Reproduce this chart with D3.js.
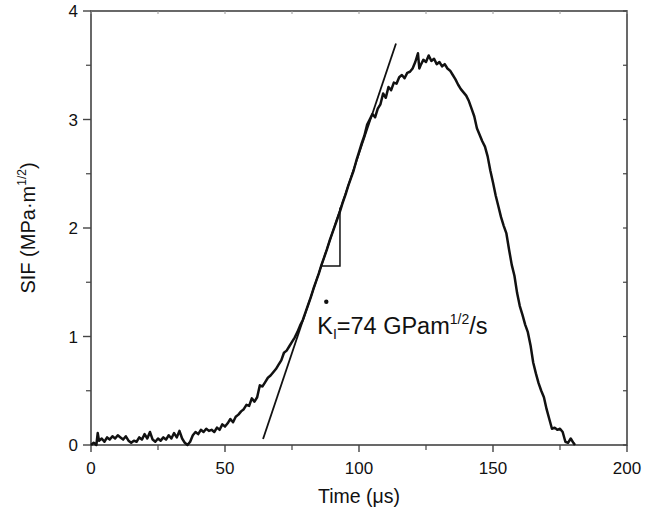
<!DOCTYPE html>
<html>
<head>
<meta charset="utf-8">
<script src="https://cdn.jsdelivr.net/npm/d3@7"></script>
<style>
body { margin: 0; background: #fff; }
svg { font-family: "Liberation Sans", Arial, sans-serif; }
</style>
</head>
<body>
<svg id="chart" width="664" height="518"></svg>
<script>
// SIF record (time in us, SIF in MPa m^1/2)
var timeUs = [0,1,2,2.5,3,4,5,6,7,8,9,10,11,12,13,14,15,16,17,18,19,20,21,22,23,24,25,26,27,28,29,30,
  31,32,33,34,35,36,37,38,39,40,41,42,43,44,45,46,47,48,49,50,51,52,53,54,55,56,57,58,59,60,
  61,62,63,64,65,66,67,68,69,70,71,72,73,74,75,76,77,78,79,80,81,82,83,84,85,86,87,88,89,90,
  91,92,93,94,95,96,97,98,99,100,101,102,103,104,105,106,107,108,109,110,111,112,113,114,115,116,117,118,119,120,
  121,122,122.5,123,124,125,126,127,128,129,130,131,132,133,134,135,136,137,138,139,140,
  141,142,143,144,145,146,147,148,149,150,151,152,153,154,155,156,157,158,159,160,
  161,162,163,164,165,166,167,168,169,170,171,172,173,174,175,176,177,178,179,180,180.6];
var sif = [0.00,0.02,0.00,0.11,0.04,0.06,0.03,0.07,0.05,0.08,0.06,0.09,0.07,0.05,0.08,0.04,0.02,0.04,0.03,0.07,0.05,0.10,0.06,0.12,0.05,0.03,0.06,0.04,0.07,0.05,0.09,0.06,
  0.11,0.07,0.13,0.06,0.02,0.00,0.03,0.09,0.12,0.10,0.14,0.12,0.15,0.13,0.14,0.12,0.16,0.14,0.19,0.17,0.20,0.24,0.21,0.26,0.28,0.31,0.33,0.37,0.36,0.43,
  0.40,0.44,0.55,0.54,0.58,0.62,0.64,0.67,0.70,0.74,0.78,0.85,0.87,0.91,0.95,0.99,1.04,1.10,1.15,1.22,1.29,1.36,1.44,1.51,1.58,1.66,1.73,1.80,1.88,1.95,
  2.02,2.09,2.16,2.24,2.31,2.39,2.46,2.53,2.62,2.70,2.78,2.85,2.95,3.00,3.05,3.02,3.10,3.14,3.24,3.20,3.30,3.27,3.34,3.33,3.39,3.41,3.38,3.43,3.44,3.47,
  3.53,3.61,3.47,3.50,3.55,3.53,3.59,3.54,3.56,3.51,3.53,3.49,3.51,3.47,3.45,3.41,3.37,3.32,3.28,3.25,3.22,
  3.17,3.10,3.03,2.92,2.86,2.80,2.75,2.66,2.53,2.42,2.30,2.20,2.10,2.02,1.95,1.80,1.66,1.56,1.40,1.28,
  1.20,1.11,1.04,0.92,0.76,0.66,0.57,0.50,0.44,0.33,0.24,0.15,0.16,0.14,0.15,0.12,0.03,0.02,0.06,0.02,0.00];

// fitted loading-rate line and slope triangle
var fitLine = [[64.2, 0.055], [113.8, 3.70]];
var triangle = [[86.2, 1.65], [92.9, 1.65], [92.9, 2.19]];

var xTicks = [0, 50, 100, 150, 200];
var xMinor = [25, 75, 125, 175];
var yTicks = [0, 1, 2, 3, 4];
var yMinor = [0.5, 1.5, 2.5, 3.5];

var svg = d3.select("#chart"),
    margin = {top: 11, right: 37, bottom: 73, left: 91},
    width = 664 - margin.left - margin.right,
    height = 518 - margin.top - margin.bottom,
    g = svg.append("g").attr("transform", "translate(" + margin.left + "," + margin.top + ")");

var x = d3.scaleLinear().domain([0, 200]).range([0, width]);
var y = d3.scaleLinear().domain([0, 4]).range([height, 0]);

var axisCol = "#444";

// frame
g.append("rect")
  .attr("width", width).attr("height", height)
  .attr("fill", "none").attr("stroke", axisCol).attr("stroke-width", 1.6);

// bottom ticks (outward)
g.selectAll(".xmaj").data(xTicks).enter().append("line")
  .attr("x1", d => x(d)).attr("x2", d => x(d))
  .attr("y1", height).attr("y2", height + 7)
  .attr("stroke", axisCol).attr("stroke-width", 1.4);
g.selectAll(".xmin").data(xMinor).enter().append("line")
  .attr("x1", d => x(d)).attr("x2", d => x(d))
  .attr("y1", height).attr("y2", height + 5)
  .attr("stroke", axisCol).attr("stroke-width", 1.2);
// top ticks (inward)
g.selectAll(".xtop").data(xTicks.concat(xMinor)).enter().append("line")
  .attr("x1", d => x(d)).attr("x2", d => x(d))
  .attr("y1", 0).attr("y2", 3)
  .attr("stroke", "#999").attr("stroke-width", 1);

// left ticks (outward)
g.selectAll(".ymaj").data(yTicks).enter().append("line")
  .attr("x1", -8).attr("x2", 0)
  .attr("y1", d => y(d)).attr("y2", d => y(d))
  .attr("stroke", axisCol).attr("stroke-width", 1.4);
g.selectAll(".ymin").data(yMinor).enter().append("line")
  .attr("x1", -5).attr("x2", 0)
  .attr("y1", d => y(d)).attr("y2", d => y(d))
  .attr("stroke", axisCol).attr("stroke-width", 1.2);
// right ticks (inward)
g.selectAll(".yright").data(yTicks.concat(yMinor)).enter().append("line")
  .attr("x1", width - 4).attr("x2", width)
  .attr("y1", d => y(d)).attr("y2", d => y(d))
  .attr("stroke", axisCol).attr("stroke-width", 1.2);

// tick labels
g.selectAll(".xlab").data(xTicks).enter().append("text")
  .attr("x", d => x(d)).attr("y", height + 29)
  .attr("text-anchor", "middle").attr("font-size", "17px").attr("fill", "#111")
  .text(d => d);
g.selectAll(".ylab").data(yTicks).enter().append("text")
  .attr("x", -13).attr("y", d => y(d)).attr("dy", "0.36em")
  .attr("text-anchor", "end").attr("font-size", "17px").attr("fill", "#111")
  .text(d => d);

// axis titles
svg.append("text")
  .attr("x", margin.left + width / 2).attr("y", 503)
  .attr("text-anchor", "middle").attr("font-size", "19.5px").attr("fill", "#111")
  .text("Time (\u03bcs)");

var yt = svg.append("text")
  .attr("transform", "translate(35,228) rotate(-90)")
  .attr("text-anchor", "middle").attr("font-size", "20px").attr("fill", "#111");
yt.append("tspan").text("SIF (MPa\u00b7m");
yt.append("tspan").attr("font-size", "12px").attr("dy", "-9").text("1/2");
yt.append("tspan").attr("dy", "9").text(")");

// data curve
var line = d3.line().x(d => x(d[0])).y(d => y(d[1]));
var pts = timeUs.map((t, i) => [t, sif[i]]);
g.append("path").datum(pts)
  .attr("d", line)
  .attr("fill", "none").attr("stroke", "#111").attr("stroke-width", 2.5)
  .attr("stroke-linejoin", "round");

// fit line
g.append("path").datum(fitLine)
  .attr("d", line)
  .attr("fill", "none").attr("stroke", "#111").attr("stroke-width", 1.8);

// slope triangle
g.append("path").datum(triangle)
  .attr("d", line)
  .attr("fill", "none").attr("stroke", "#111").attr("stroke-width", 1.5);

// annotation
var ann = g.append("text")
  .attr("x", x(84.4)).attr("y", y(1.02))
  .attr("font-size", "23.5px").attr("fill", "#111");
ann.append("tspan").text("K");
ann.append("tspan").attr("font-size", "14px").attr("dy", "5").text("I");
ann.append("tspan").attr("dy", "-5").text("=74 GPam");
ann.append("tspan").attr("font-size", "14px").attr("dy", "-10").text("1/2");
ann.append("tspan").attr("dy", "10").text("/s");
g.append("circle")
  .attr("cx", x(87.8)).attr("cy", y(1.32)).attr("r", 2.2)
  .attr("fill", "#111");
</script>
</body>
</html>
